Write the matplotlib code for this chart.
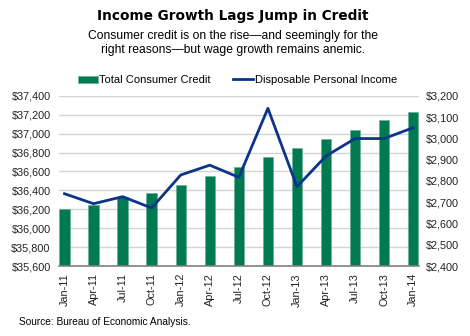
import matplotlib.pyplot as plt
import numpy as np
from matplotlib.ticker import FuncFormatter

plt.rcParams["font.family"] = ["Liberation Sans", "DejaVu Sans"]

quarters = ["Jan-11", "Apr-11", "Jul-11", "Oct-11", "Jan-12", "Apr-12", "Jul-12",
            "Oct-12", "Jan-13", "Apr-13", "Jul-13", "Oct-13", "Jan-14"]
consumer_credit = [36200, 36250, 36325, 36370, 36455, 36555, 36645,
                   36750, 36845, 36940, 37040, 37140, 37230]
disposable_income = [2740, 2693, 2726, 2673, 2828, 2874, 2817,
                     3141, 2773, 2917, 2999, 2999, 3050]

GREEN = "#007a53"
NAVY = "#0b3489"

fig = plt.figure(figsize=(4.7, 3.36), dpi=100)
ax = fig.add_axes([0.1255, 0.208, 0.766, 0.507])
ax2 = ax.twinx()

x = np.arange(len(quarters))
ax.bar(x, consumer_credit, width=0.36, color=GREEN, edgecolor="#5fae8f",
       linewidth=0.4, zorder=2, label="Total Consumer Credit")
ax2.plot(x, disposable_income, color=NAVY, lw=2.0, zorder=3,
         label="Disposable Personal Income")

ax.set_ylim(35600, 37400)
ax.set_yticks(np.arange(35600, 37401, 200))
ax2.set_ylim(2400, 3200)
ax2.set_yticks(np.arange(2400, 3201, 100))
ax.set_xlim(-0.19, 12.2)
ax.set_xticks(x)
ax.set_xticklabels(quarters, rotation=90, fontsize=7.8)

money = FuncFormatter(lambda v, _: f"${v:,.0f}")
ax.yaxis.set_major_formatter(money)
ax2.yaxis.set_major_formatter(money)

ax.grid(axis="y", color="#d4d4d4", lw=1.0, zorder=0)
ax.set_axisbelow(True)
for a in (ax, ax2):
    for side in ("top", "left", "right", "bottom"):
        a.spines[side].set_visible(False)
    a.tick_params(length=0, labelsize=7.8, colors="#222222")
ax.spines["bottom"].set_visible(True)
ax.spines["bottom"].set_color("#808080")
ax.spines["bottom"].set_linewidth(1.2)
ax.tick_params(axis="y", pad=6)
ax.tick_params(axis="x", pad=5)
ax2.tick_params(axis="y", pad=5)

h1, l1 = ax.get_legend_handles_labels()
h2, l2 = ax2.get_legend_handles_labels()
fig.legend(h1 + h2, l1 + l2, loc="center", bbox_to_anchor=(0.505, 0.762),
           ncol=2, frameon=False, fontsize=8.0, handlelength=1.8,
           handletextpad=0.15, columnspacing=2.0, handleheight=0.6)

fig.text(0.496, 0.952, "Income Growth Lags Jump in Credit", ha="center",
         va="center", fontsize=9.8, fontweight="bold", family="DejaVu Sans")
fig.text(0.496, 0.872,
         "Consumer credit is on the rise\u2014and seemingly for the\n"
         "right reasons\u2014but wage growth remains anemic.",
         ha="center", va="center", fontsize=8.7, linespacing=1.2)
fig.text(0.04, 0.042, "Source: Bureau of Economic Analysis.", ha="left",
         va="center", fontsize=7.3)

fig.savefig("out.png", dpi=100)
